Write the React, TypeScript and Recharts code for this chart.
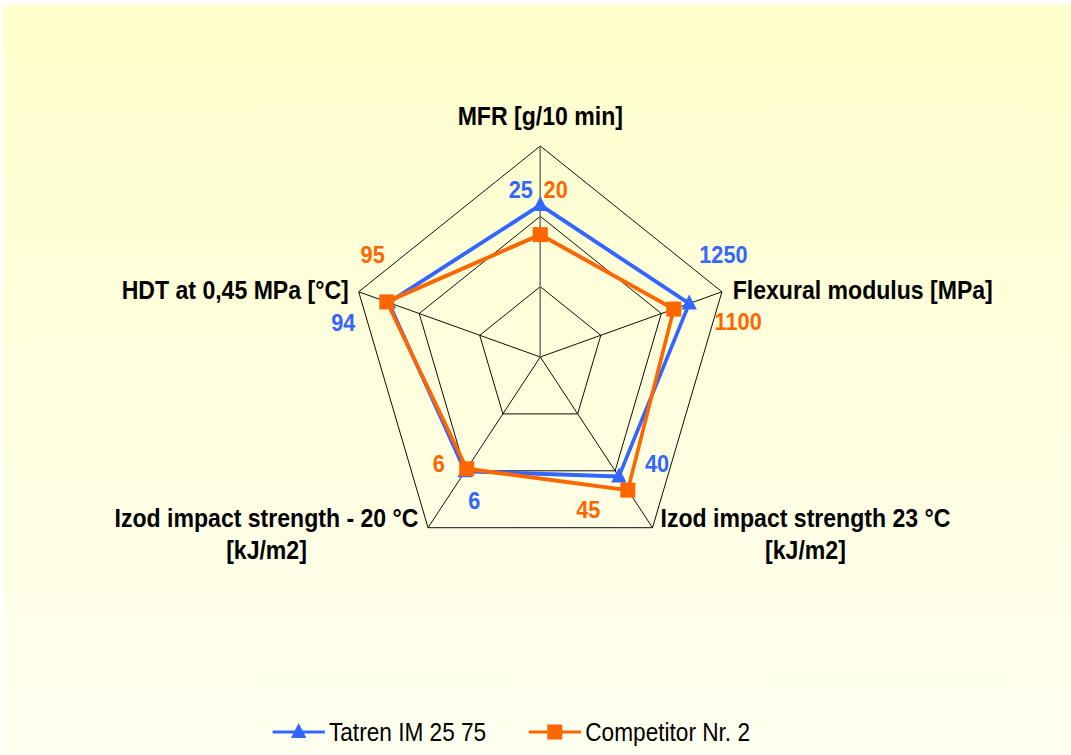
import React from "react"
import { RadarChart, Radar, PolarGrid, PolarAngleAxis, PolarRadiusAxis, Legend } from "recharts"

// categories, clockwise from the top
const categories = [
  "MFR [g/10 min]",
  "Flexural modulus [MPa]",
  "Izod impact strength 23 °C [kJ/m2]",
  "Izod impact strength - 20 °C [kJ/m2]",
  "HDT at 0,45 MPa [°C]",
]
const categoryLines = [
  ["MFR [g/10 min]"],
  ["Flexural modulus [MPa]"],
  ["Izod impact strength 23 °C", "[kJ/m2]"],
  ["Izod impact strength - 20 °C", "[kJ/m2]"],
  ["HDT at 0,45 MPa [°C]"],
]

// printed values
const tatrenValues = [25, 1250, 40, 6, 94]
const competitorValues = [20, 1100, 45, 6, 95]

// each axis has its own scale, so plot position as share of the radius
const tatrenScaled = [0.72, 0.82, 0.7, 0.67, 0.835]
const competitorScaled = [0.58, 0.735, 0.78, 0.655, 0.845]

const seriesNames = ["Tatren IM 25 75", "Competitor Nr. 2"]

const data = categories.map((category, i) => ({
  category,
  tatren: tatrenScaled[i],
  competitor: competitorScaled[i],
}))

const BLUE = "#3366FF"
const ORANGE = "#FF6600"
const FONT = "'Liberation Sans', Arial, sans-serif"

// the original picture is squeezed horizontally
const S = 0.905
const W = 1183
const H = 755
const CX = 597
const CY = 357
const R = 211

// offsets from each outer vertex (local px)
const namePlace = [
  { dx: 0, dy: -30, anchor: "middle" },
  { dx: 12, dy: -2, anchor: "start" },
  { dx: 169, dy: -10, anchor: "middle" },
  { dx: -178.5, dy: -10, anchor: "middle" },
  { dx: -11, dy: -2, anchor: "end" },
]
const tatrenLabelPlace = [
  [-21.5, 44],
  [1.7, -37],
  [5, -64],
  [51, -27],
  [-17, 31],
]
const competitorLabelPlace = [
  [17, 44],
  [18, 30],
  [-71, -18],
  [12, -64],
  [15.5, -37],
]

const vertex = (i: number) => {
  const a = ((90 - 72 * i) * Math.PI) / 180
  return { x: CX + R * Math.cos(a), y: CY - R * Math.sin(a) }
}

const AxisTick = (props: any) => {
  const i = props.index
  const v = vertex(i)
  const p = namePlace[i]
  const lines = categoryLines[i]
  return (
    <g>
      {lines.map((line, k) => (
        <text
          key={k}
          x={v.x + p.dx}
          y={v.y + p.dy + k * 32}
          textAnchor={p.anchor}
          dominantBaseline="central"
          fontFamily={FONT}
          fontWeight="bold"
          fontSize={25.5}
          fill="#000"
        >
          {line}
        </text>
      ))}
      <text
        x={v.x + tatrenLabelPlace[i][0]}
        y={v.y + tatrenLabelPlace[i][1]}
        textAnchor="middle"
        dominantBaseline="central"
        fontFamily={FONT}
        fontWeight="bold"
        fontSize={24}
        fill={BLUE}
      >
        {tatrenValues[i]}
      </text>
      <text
        x={v.x + competitorLabelPlace[i][0]}
        y={v.y + competitorLabelPlace[i][1]}
        textAnchor="middle"
        dominantBaseline="central"
        fontFamily={FONT}
        fontWeight="bold"
        fontSize={24}
        fill={ORANGE}
      >
        {competitorValues[i]}
      </text>
    </g>
  )
}

const Triangle = ({ cx, cy, fill }: any) => (
  <path d={`M${cx},${cy - 9} L${cx + 8.5},${cy + 6} L${cx - 8.5},${cy + 6} Z`} fill={fill} />
)
const Square = ({ cx, cy, fill }: any) => <rect x={cx - 8.3} y={cy - 7.5} width={16.6} height={15} fill={fill} />

const LegendContent = () => (
  <div style={{ display: "flex", alignItems: "center", fontFamily: FONT, fontSize: 25, color: "#000" }}>
    <svg width={58.5} height={30}>
      <line x1={0} y1={15} x2={58.5} y2={15} stroke={BLUE} strokeWidth={3} />
      <Triangle cx={29} cy={15} fill={BLUE} />
    </svg>
    <span style={{ marginLeft: 4.5, lineHeight: "30px" }}>{seriesNames[0]}</span>
    <svg width={58} height={30} style={{ marginLeft: 47 }}>
      <line x1={0} y1={15} x2={58} y2={15} stroke={ORANGE} strokeWidth={3} />
      <Square cx={29} cy={15} fill={ORANGE} />
    </svg>
    <span style={{ marginLeft: 4.5, lineHeight: "30px" }}>{seriesNames[1]}</span>
  </div>
)

export default function App() {
  return (
    <>
      <div
        style={{
          position: "absolute",
          left: 3,
          top: 5,
          width: 1068,
          height: 750,
          background: "linear-gradient(to bottom, #FFFFCC 0%, #FFFFE0 55%, #FFFFF0 100%)",
        }}
      />
      <div
        style={{
          position: "absolute",
          left: 0,
          top: 0,
          width: W,
          height: H,
          transform: `scaleX(${S})`,
          transformOrigin: "0 0",
        }}
      >
        <RadarChart width={W} height={H} data={data} cx={CX} cy={CY} outerRadius={R} margin={{ top: 0, right: 0, bottom: 0, left: 0 }}>
          <PolarGrid gridType="polygon" stroke="#000" strokeWidth={1} polarRadius={[R / 3, (2 * R) / 3, R]} />
          <PolarAngleAxis dataKey="category" tick={AxisTick} tickLine={false} axisLine={false} />
          <PolarRadiusAxis angle={90} domain={[0, 1]} tick={false} axisLine={{ stroke: "#808080", strokeWidth: 1.5 }} />
          <Radar
            name={seriesNames[0]}
            dataKey="tatren"
            stroke={BLUE}
            strokeWidth={4}
            fill="none"
            fillOpacity={0}
            dot={(p: any) => <Triangle key={`t-${p.index}`} cx={p.cx} cy={p.cy} fill={BLUE} />}
            isAnimationActive={false}
          />
          <Radar
            name={seriesNames[1]}
            dataKey="competitor"
            stroke={ORANGE}
            strokeWidth={4}
            fill="none"
            fillOpacity={0}
            dot={(p: any) => <Square key={`s-${p.index}`} cx={p.cx} cy={p.cy} fill={ORANGE} />}
            isAnimationActive={false}
          />
          <Legend content={LegendContent} wrapperStyle={{ left: 300.5, top: 717, width: "auto", height: 30 }} />
        </RadarChart>
      </div>
    </>
  )
}
